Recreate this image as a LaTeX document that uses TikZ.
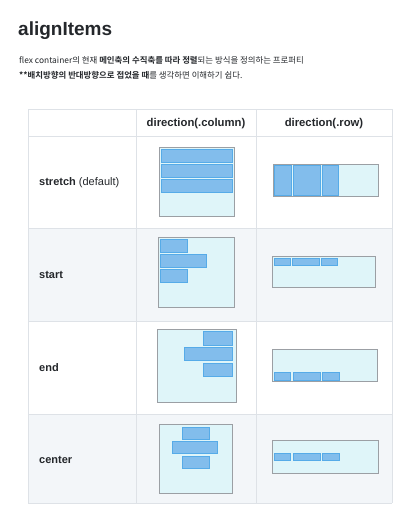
\documentclass[tikz,border=0pt]{standalone}
\usepackage{fontspec}
\setmainfont[BoldFont={Noto Sans CJK KR Bold}]{Noto Sans CJK KR}
\newfontfamily\lsans{Liberation Sans}
\definecolor{ink}{HTML}{24272B}
\definecolor{gridline}{HTML}{DEE2E7}
\definecolor{rowshade}{HTML}{F3F6F9}
\definecolor{boxline}{HTML}{9B9FA4}
\definecolor{boxfill}{HTML}{DFF5F9}
\definecolor{itemline}{HTML}{56ABE8}
\definecolor{itemfill}{HTML}{82BDEC}
\tikzset{
  grid/.style={draw=gridline,line width=0.9pt},
  flexbox/.style={draw=boxline,fill=boxfill,line width=1pt},
  item/.style={draw=itemline,fill=itemfill,line width=0.9pt},
  rowlabel/.style={anchor=west,inner sep=0pt,text=ink,font=\lsans\fontsize{11}{13}\selectfont},
  colhead/.style={inner sep=0pt,text=ink,font=\lsans\bfseries\fontsize{11.3}{13}\selectfont},
  desc/.style={anchor=base west,inner sep=0pt,text=ink,font=\fontsize{8.4}{10}\selectfont}
}
\begin{document}
\begin{tikzpicture}[x=1pt,y=-1pt]
  \useasboundingbox (0,0) rectangle (411,524);
  % heading and description
  \node[anchor=base west,inner sep=0pt,text=ink,font=\lsans\bfseries\fontsize{19}{23}\selectfont]
    (title) at (18,36) {alignItems};
  \node[desc] (desc1) at (19,64) {flex container의 현재 \textbf{메인축의 수직축를 따라 정렬}되는 방식을 정의하는 프로퍼티};
  \node[desc] (desc2) at (19,79) {\textbf{**배치방향의 반대방향으로 접었을 때}를 생각하면 이해하기 쉽다.};
  % table
  \fill[rowshade] (28,228) rectangle (392,321);
  \fill[rowshade] (28,414) rectangle (392,503);
  \draw[grid] (28,109) -- (392,109);
  \draw[grid] (28,136) -- (392,136);
  \draw[grid] (28,228) -- (392,228);
  \draw[grid] (28,321) -- (392,321);
  \draw[grid] (28,414) -- (392,414);
  \draw[grid] (28,503) -- (392,503);
  \draw[grid] (28,109) -- (28,503);
  \draw[grid] (136,109) -- (136,503);
  \draw[grid] (256,109) -- (256,503);
  \draw[grid] (392,109) -- (392,503);
  \node[colhead] (hcol) at (196,124) {direction(.column)};
  \node[colhead] (hrow) at (324,124) {direction(.row)};
  \node[rowlabel] (lstretch) at (39,183) {\textbf{stretch} (default)};
  \node[rowlabel] (lstart) at (39,275) {\textbf{start}};
  \node[rowlabel] (lend) at (39,368) {\textbf{end}};
  \node[rowlabel] (lcenter) at (39,460) {\textbf{center}};
  % stretch
  \draw[flexbox] (159,147) rectangle (234,216);
  \draw[item] (161,149) rectangle (232,162);
  \draw[item] (161,164) rectangle (232,177);
  \draw[item] (161,179) rectangle (232,192);
  \draw[flexbox] (273,164) rectangle (378,196);
  \draw[item] (274,165) rectangle (291,195);
  \draw[item] (293,165) rectangle (320,195);
  \draw[item] (322,165) rectangle (338,195);
  % start
  \draw[flexbox] (158,237) rectangle (234,307);
  \draw[item] (160,239) rectangle (187,252);
  \draw[item] (160,254) rectangle (206,267);
  \draw[item] (160,269) rectangle (187,282);
  \draw[flexbox] (272,256) rectangle (375,287);
  \draw[item] (274,258) rectangle (290,265);
  \draw[item] (292,258) rectangle (319,265);
  \draw[item] (321,258) rectangle (337,265);
  % end
  \draw[flexbox] (157,329) rectangle (236,402);
  \draw[item] (203,331) rectangle (232,345);
  \draw[item] (184,347) rectangle (232,360);
  \draw[item] (203,363) rectangle (232,376);
  \draw[flexbox] (272,349) rectangle (377,381);
  \draw[item] (274,372) rectangle (290,380);
  \draw[item] (293,372) rectangle (320,380);
  \draw[item] (322,372) rectangle (339,380);
  % center
  \draw[flexbox] (159,424) rectangle (232,493);
  \draw[item] (182,427) rectangle (209,439);
  \draw[item] (172,441) rectangle (217,453);
  \draw[item] (182,456) rectangle (209,468);
  \draw[flexbox] (272,440) rectangle (378,473);
  \draw[item] (274,453) rectangle (290,460);
  \draw[item] (293,453) rectangle (320,460);
  \draw[item] (322,453) rectangle (339,460);
\end{tikzpicture}
\end{document}
